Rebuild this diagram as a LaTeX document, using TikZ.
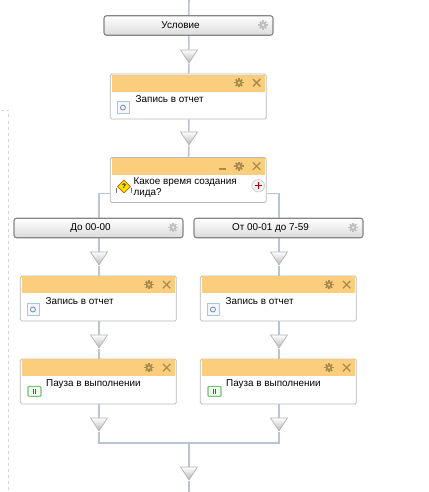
\documentclass[tikz,border=0pt]{standalone}
\usepackage{fontspec}
\setmainfont{Liberation Sans}
\usepackage{xcolor}
\usetikzlibrary{shapes.geometric, positioning, calc, backgrounds}
\definecolor{wire}{HTML}{B8C5D2}
\definecolor{hdr}{HTML}{FACE7D}
\definecolor{hdrmark}{HTML}{A98B4E}
\definecolor{logblue}{HTML}{A5C8E4}
\definecolor{pausegreen}{HTML}{74C274}
\tikzset{
  cond/.style={rectangle, draw=black!48, line width=1.1pt, rounded corners=2.5pt,
               top color=white, bottom color=black!14, minimum width=169pt,
               minimum height=19.5pt, inner sep=0pt},
  card/.style={rectangle, draw=black!28, fill=white, line width=0.7pt, rounded corners=1.5pt,
               minimum width=156pt, minimum height=45pt, inner sep=0pt},
  hdrbar/.style={rectangle, fill=hdr, minimum width=153.5pt, minimum height=17pt, inner sep=0pt},
  lbl/.style={font=\fontsize{9.9}{11}\selectfont, inner sep=0pt, align=left},
  tri/.style={isosceles triangle, isosceles triangle stretches, shape border rotate=-90,
              draw=black!30, line width=0.7pt, top color=white, bottom color=black!28,
              minimum width=17pt, minimum height=13pt, inner sep=0pt},
  wr/.style={draw=wire, line width=1.6pt},
  logicon/.style={rectangle, draw=logblue, fill=blue!4, line width=0.9pt, minimum size=12pt, inner sep=0pt},
  pauseicon/.style={rectangle, rounded corners=1pt, draw=pausegreen, fill=green!6, line width=1.1pt,
                    minimum width=13pt, minimum height=10pt, inner sep=0pt}
}
% solid gear: name, position, colour, colour of its hole
\newcommand{\gearmark}[4]{
  \node[circle, fill=#3, minimum size=6.6pt, inner sep=0pt] (#1) at (#2) {};
  \foreach \a in {0,45,90,135}
    \draw[#3, line width=1.5pt] (#1.center) +(\a:4.6) -- +(\a+180:4.6);
  \node[circle, fill=#4, minimum size=2.6pt, inner sep=0pt] (#1h) at (#1.center) {};
}
% header marks of a card: gear, cross
\newcommand{\cardmarks}[1]{
  \gearmark{#1g}{$(#1.north east)+(-27.7,9)$}{hdrmark}{hdr}
  \node[inner sep=0pt, minimum size=7pt] (#1x) at ($(#1.north east)+(-10,9)$) {};
  \draw[hdrmark, line width=1.3pt] (#1x.north west) -- (#1x.south east) (#1x.north east) -- (#1x.south west);
}
\begin{document}
\begin{tikzpicture}[x=1pt, y=-1pt]
  \useasboundingbox (0,0) rectangle (428,492);
  % margin marks
  \draw[black!16, dashed, line width=0.8pt] (1,110) -- (8.5,110) -- (8.5,492);
  \draw[black!40, line width=1pt] (381,0) -- (428,0);
  \coordinate (topin) at (189,0);
  \coordinate (botout) at (189,492);
  % main column
  \node[cond] (cnd) at (188.5,25.5) {};
  \node[tri] (t1) at (189,54.5) {};
  \node[card] (c1) at (188.3,96.6) {};
  \node[tri] (t2) at (189,136.5) {};
  \node[card] (c2) at (188.3,180) {};
  % two branches
  \foreach \n/\x in {l/99,r/279} {
    \node[cond] (b\n) at (\x-0.5,228) {};
    \node[tri] (ta\n) at (\x,256.5) {};
    \node[card] (ca\n) at (\x-0.7,298.5) {};
    \node[tri] (tb\n) at (\x,339.5) {};
    \node[card] (cb\n) at (\x-0.7,381.5) {};
    \node[tri] (tc\n) at (\x,422.5) {};
    \coordinate (j\n) at (\x,443);
  }
  \node[tri] (t3) at (189,471.5) {};
  \coordinate (jm) at (189,443);
  \coordinate (sl) at (c2.west |- 0,193.5);
  \coordinate (sr) at (c2.east |- 0,193.5);
  % connectors
  \begin{scope}[on background layer]
    \foreach \a/\b in {topin/cnd,cnd/t1,t1/c1,c1/t2,t2/c2,t3/botout,jm/t3}
      \draw[wr] (\a) -- (\b);
    \foreach \n in {l,r} {
      \draw[wr] (b\n.north -| j\n) -- (ta\n);
      \draw[wr] (ta\n) -- (ca\n.north -| j\n);
      \draw[wr] (ca\n.south -| j\n) -- (tb\n);
      \draw[wr] (tb\n) -- (cb\n.north -| j\n);
      \draw[wr] (cb\n.south -| j\n) -- (tc\n);
    }
    \draw[wr] (tcl) |- (jr) -- (tcr);
    \draw[wr] (sl) -| (bl.north -| jl);
    \draw[wr] (sr) -| (br.north -| jr);
  \end{scope}
  % condition texts and gears
  \foreach \c/\t in {cnd/Условие,bl/До 00-00,br/От 00-01 до 7-59} {
    \node[lbl] (\c t) at ($(\c)+(-8,0)$) {\t};
    \gearmark{\c g}{$(\c.east)+(-10.5,-0.5)$}{black!25}{black!6}
  }
  \foreach \c in {c1,c2,cal,car,cbl,cbr} {
    \node[hdrbar, anchor=north] (h\c) at ($(\c.north)+(0,0.6)$) {};
    \cardmarks{\c}
  }
  % log cards
  \foreach \c in {c1,cal,car} {
    \node[lbl, anchor=west] (w\c) at ($(\c.west)+(25.5,2.5)$) {Запись в отчет};
    \node[logicon] (i\c) at ($(\c.west)+(13,11)$) {};
    \node[circle, draw=black!30!logblue, line width=0.8pt, minimum size=5pt, inner sep=0pt] (o\c) at (i\c) {};
  }
  % pause cards
  \foreach \c in {cbl,cbr} {
    \node[lbl, anchor=west] (w\c) at ($(\c.west)+(26,2.5)$) {Пауза в выполнении};
    \node[pauseicon] (i\c) at ($(\c.west)+(14.5,9.8)$) {};
    \draw[black!65, line width=1pt] ($(i\c)+(-1.4,-2.2)$) -- ++(0,4.4) ($(i\c)+(1.4,-2.2)$) -- ++(0,4.4);
  }
  % question card
  \node[lbl, anchor=north west] (qtxt) at ($(c2.north west)+(23.5,20.5)$) {Какое время создания\\лида?};
  \node[diamond, draw=orange!75!black, fill=yellow!85!orange, line width=0.8pt, minimum size=13pt, inner sep=0pt, font=\bfseries\fontsize{6.5}{6.5}\selectfont] (qic) at (124,186.5) {?};
  \draw[black!55, line width=0.5pt] (qic.west) ++(-0.5,1) -- ++(0,5) (qic.east) ++(0.5,1) -- ++(0,5);
  \node[circle, draw=black!16, fill=black!5, line width=0.9pt, minimum size=12.5pt, inner sep=0pt] (plus) at ($(c2.east)+(-8.3,5.7)$) {};
  \draw[red!70!black, line width=1.2pt] (plus.center) +(-3.5,0) -- +(3.5,0) +(0,-3.5) -- +(0,3.5);
  \node[inner sep=0pt, minimum width=7.5pt, minimum height=1.8pt, fill=hdrmark] (mins) at ($(c2.north east)+(-44,12)$) {};
\end{tikzpicture}
\end{document}
